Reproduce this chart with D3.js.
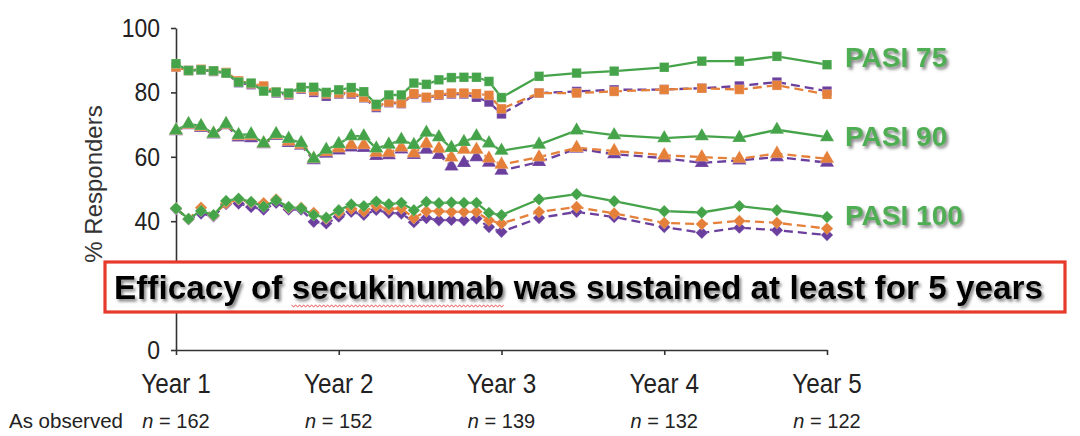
<!DOCTYPE html>
<html><head><meta charset="utf-8">
<script src="https://cdn.jsdelivr.net/npm/d3@7"></script>
<style>
html,body{margin:0;padding:0;background:#fff;}
svg{display:block;}
</style></head>
<body>
<svg id="chart" width="1080" height="436"></svg>
<script>
// ---- data ----
const weeks = [52,56,60,64,68,72,76,80,84,88,92,96,100,104,108,112,116,120,124,128,132,136,140,144,148,152,156,168,180,192,208,220,232,244,260];
const yearTicks = [52,104,156,208,260];
const yearLabels = ["Year 1","Year 2","Year 3","Year 4","Year 5"];
const nObserved = ["162","152","139","132","122"];
const yTicks = [0,20,40,60,80,100];
const yTickLabels = ["0","","40","60","80","100"]; // "20" is hidden behind the title box in the original

const pasi75Green  = [88.9,86.8,87.0,86.7,86.0,83.2,82.9,80.4,80.1,79.8,81.6,81.6,80.0,80.8,81.5,80.2,76.3,79.2,79.2,82.9,82.5,83.9,84.6,84.7,84.7,83.4,78.4,85.0,86.0,86.6,87.8,89.7,89.7,91.2,88.6];
const pasi75Orange = [87.9,86.8,87.2,86.7,86.2,83.6,82.7,82.0,80.1,79.5,81.3,80.5,79.5,79.8,79.9,78.5,75.7,77.0,76.7,79.6,78.5,79.3,79.8,79.8,79.6,79.1,74.9,79.8,79.8,80.3,80.9,81.3,80.9,82.2,79.4];
const pasi75Purple = [87.9,86.8,87.0,86.5,86.0,83.0,82.4,81.5,79.8,79.2,81.0,80.0,78.8,79.5,79.5,78.3,75.3,76.8,76.5,79.4,78.3,79.1,79.5,79.5,78.5,77.0,73.3,79.8,80.3,80.8,80.9,81.3,82.0,83.2,80.4];

const pasi90Green  = [68.2,70.2,69.6,67.2,70.2,66.8,67.0,64.2,67.1,65.6,64.3,59.4,62.2,64.0,66.4,66.4,62.6,63.8,65.3,63.7,67.5,66.1,62.8,64.6,66.4,64.2,61.9,63.8,68.2,66.7,65.8,66.4,65.9,68.4,66.1];
const pasi90Orange = [68.2,70.0,69.3,67.2,70.0,66.5,66.5,64.2,66.8,64.8,63.8,59.4,61.5,62.7,63.7,63.7,61.3,61.3,62.9,61.1,64.1,62.5,59.8,62.2,62.2,59.5,57.6,59.9,62.8,61.8,60.5,59.9,59.4,61.0,59.4];
const pasi90Purple = [68.0,69.8,69.0,67.0,69.8,66.0,65.8,63.9,66.5,64.3,63.5,59.0,61.0,62.0,62.9,62.8,60.3,60.5,62.3,60.6,62.2,60.6,57.0,58.1,59.9,58.2,55.7,58.4,62.5,60.8,59.6,58.1,58.9,59.9,58.2];

const pasi100Green  = [44.0,40.7,43.2,41.9,46.3,47.0,46.0,44.5,46.5,44.4,44.0,41.9,41.1,43.4,45.2,44.7,46.1,45.3,45.7,43.4,46.0,45.6,45.8,45.7,45.7,42.6,41.9,46.8,48.4,46.2,43.1,42.7,44.7,43.4,41.3];
const pasi100Orange = [44.0,40.7,44.2,41.8,45.6,46.8,45.8,45.6,46.8,44.2,44.2,42.6,40.8,42.6,43.9,43.1,44.7,43.8,44.0,41.0,43.1,43.1,42.9,42.9,42.9,40.3,39.3,42.9,44.4,42.4,39.5,39.1,40.1,39.5,37.7];
const pasi100Purple = [43.8,40.6,42.4,41.5,45.3,45.5,44.4,43.6,45.7,43.6,43.6,39.8,39.3,41.4,42.9,42.0,43.5,42.6,42.4,39.7,41.0,40.3,40.4,40.3,40.8,38.2,36.7,41.0,42.9,41.3,38.2,36.4,38.0,37.2,35.7];

const endpointLabels = ["PASI 75","PASI 90","PASI 100"];
const titleText = "Efficacy of secukinumab was sustained at least for 5 years";

// ---- styles ----
const GREEN = "#45a349", ORANGE = "#e5803a", PURPLE = "#6b3f9e", LABELGREEN = "#4fae52";
const svg = d3.select("#chart");
const defs = svg.append("defs");
const f = defs.append("filter").attr("id","shadow").attr("x","-10%").attr("y","-30%").attr("width","120%").attr("height","160%");
f.append("feDropShadow").attr("dx",2).attr("dy",2.5).attr("stdDeviation",1.6).attr("flood-color","#666").attr("flood-opacity",0.8);

const x = d3.scaleLinear().domain([52,260]).range([176,827]);
const y = d3.scaleLinear().domain([0,100]).range([350,28]);

// axes
const yAxis = d3.axisLeft(y).tickValues(yTicks).tickSize(5).tickSizeOuter(0).tickFormat("");
const xAxis = d3.axisBottom(x).tickValues(yearTicks).tickSize(5).tickSizeOuter(0).tickFormat("");
const gy = svg.append("g").attr("transform","translate(176,0)").call(yAxis);
const gx = svg.append("g").attr("transform","translate(0,350)").call(xAxis);
[gy,gx].forEach(g=>{g.selectAll("path,line").attr("stroke","#333").attr("stroke-width",1.6);});

const axisFont = "'Liberation Sans', Arial, Helvetica, sans-serif";
// y tick labels
svg.append("g").selectAll("text").data(yTicks.filter((d,i)=>yTickLabels[i])).join("text")
  .attr("transform", d=>`translate(160,${y(d)+9}) scale(0.92,1)`)
  .attr("text-anchor","end").attr("font-family",axisFont).attr("font-size",25).attr("fill","#222")
  .text(d=>yTickLabels[yTicks.indexOf(d)]);
// y title
svg.append("text").attr("transform",`translate(102,184) rotate(-90)`)
  .attr("text-anchor","middle").attr("font-family",axisFont).attr("font-size",24).attr("fill","#333")
  .text("% Responders");
// x labels
svg.append("g").selectAll("text").data(yearTicks).join("text")
  .attr("transform",(d)=>`translate(${x(d)},393) scale(0.9,1)`)
  .attr("text-anchor","middle").attr("font-family",axisFont).attr("font-size",27).attr("fill","#222")
  .text((d,i)=>yearLabels[i]);
// n labels
svg.append("text").attr("x",9).attr("y",428).attr("font-family",axisFont).attr("font-size",20.5).attr("fill","#222").text("As observed");
const nl = svg.append("g").selectAll("text").data(yearTicks).join("text")
  .attr("x",d=>x(d)).attr("y",428).attr("text-anchor","middle").attr("font-family",axisFont).attr("font-size",20).attr("fill","#222");
nl.append("tspan").attr("font-style","italic").text("n");
nl.append("tspan").text((d,i)=>" = "+nObserved[i]);

// series
const endpoints = [
  {shape:"square", series:[[pasi75Purple,PURPLE,true],[pasi75Orange,ORANGE,true],[pasi75Green,GREEN,false]]},
  {shape:"triangle", series:[[pasi90Purple,PURPLE,true],[pasi90Orange,ORANGE,true],[pasi90Green,GREEN,false]]},
  {shape:"diamond", series:[[pasi100Purple,PURPLE,true],[pasi100Orange,ORANGE,true],[pasi100Green,GREEN,false]]}
];
const line = d3.line().x((d,i)=>x(weeks[i])).y(d=>y(d));
const sym = {
  square: d3.symbol().type(d3.symbolSquare).size(90)(),
  triangle: d3.symbol().type(d3.symbolTriangle).size(88)(),
  diamond: d3.symbol().type(d3.symbolSquare).size(76)()
};
const plot = svg.append("g");
endpoints.forEach(ep=>{
  ep.series.forEach(([vals,col,dashed])=>{
    const g = plot.append("g");
    g.append("path").attr("d",line(vals)).attr("fill","none").attr("stroke",col).attr("stroke-width",2.3)
      .attr("stroke-dasharray",dashed?"9,5":null);
    g.selectAll("path.m").data(vals).join("path").attr("class","m")
      .attr("d",sym[ep.shape])
      .attr("transform",(d,i)=>`translate(${x(weeks[i])},${y(d)})${ep.shape==="diamond"?" rotate(45)":""}`)
      .attr("fill",col).attr("stroke","#fff").attr("stroke-opacity",0.35).attr("stroke-width",0.6);
  });
});

// endpoint labels
const labelBase = [67,146,225];
svg.append("g").selectAll("text").data(endpointLabels).join("text")
  .attr("x",845).attr("y",(d,i)=>labelBase[i])
  .attr("font-family","'Liberation Sans', Arial, sans-serif").attr("font-weight","bold").attr("font-size",28)
  .attr("fill",LABELGREEN).attr("filter","url(#shadow)")
  .text(d=>d);

// title box
svg.append("rect").attr("x",105).attr("y",262).attr("width",960).attr("height",50)
  .attr("fill","#fff").attr("stroke","#e63a2c").attr("stroke-width",3.2);
const t = svg.append("text").attr("x",114).attr("y",299)
  .attr("font-family","'Liberation Sans', Arial, sans-serif").attr("font-weight","bold").attr("font-size",33.2)
  .attr("fill","#000").attr("textLength",929).attr("lengthAdjust","spacingAndGlyphs")
  .attr("filter","url(#shadow)").text(titleText);
// spell-check wavy underline under the word
const word = "secukinumab";
const idx = titleText.indexOf(word);
const node = t.node();
try{
  const x0 = node.getStartPositionOfChar(idx).x;
  const x1 = node.getEndPositionOfChar(idx+word.length-1).x;
  const pts = d3.range(x0, x1, 2).map((px,i)=>[px, 305.5 + (i%2?1.3:-0.3)]);
  svg.append("path").attr("d",d3.line()(pts)).attr("fill","none").attr("stroke","#e0302a").attr("stroke-width",0.9);
}catch(e){}
</script>
</body></html>
